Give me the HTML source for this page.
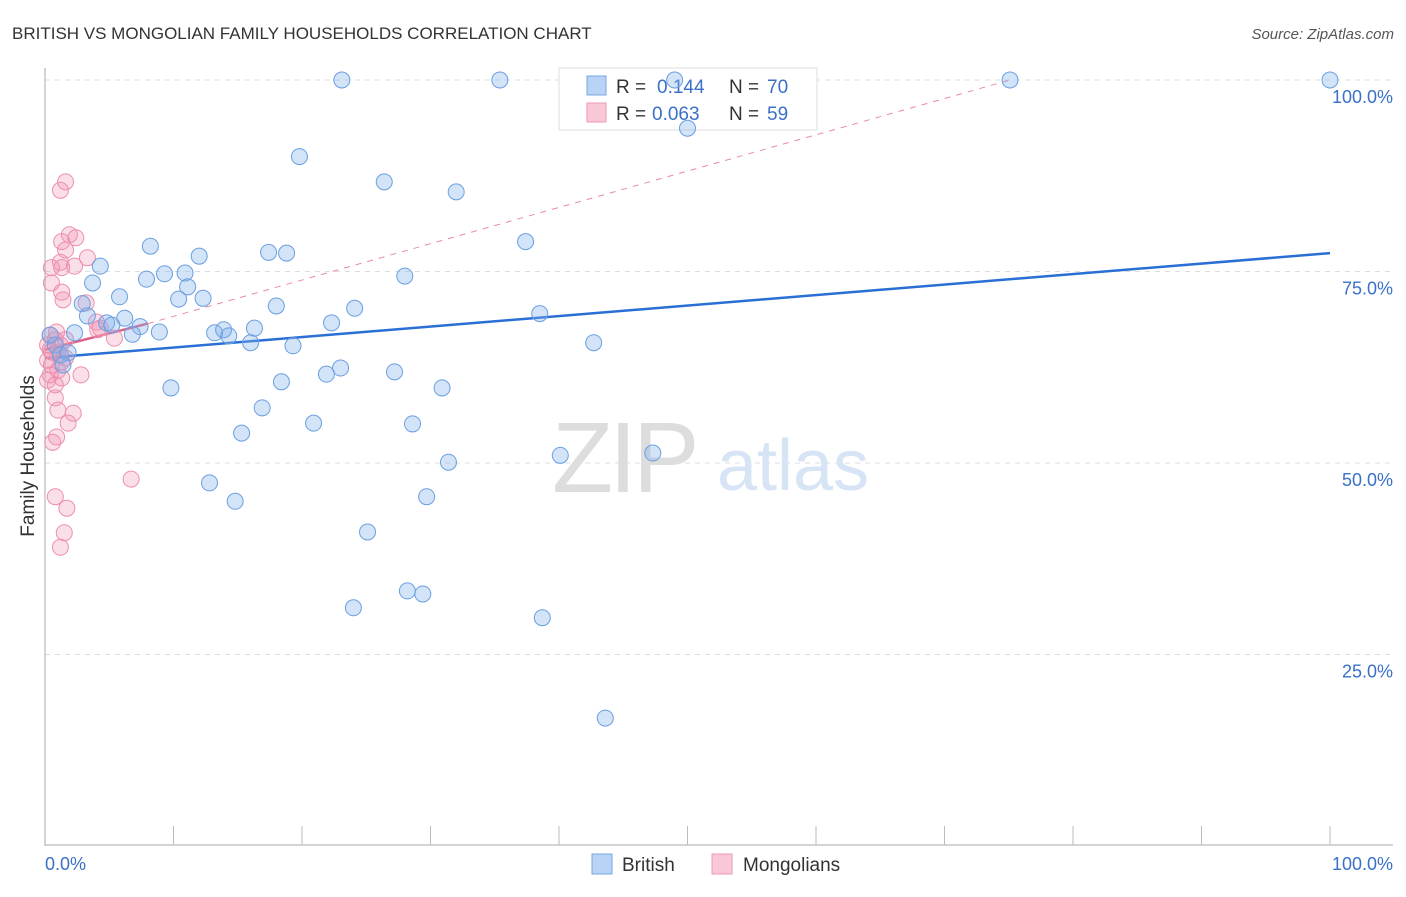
<!DOCTYPE html>
<html><head><meta charset="utf-8"><style>
body{margin:0;background:#fff;font-family:"Liberation Sans",sans-serif}
svg text{font-family:"Liberation Sans",sans-serif}
</style></head><body>
<svg id="chart" width="1406" height="892" xmlns="http://www.w3.org/2000/svg">
<text x="12" y="39" font-size="17" fill="#333">BRITISH VS MONGOLIAN FAMILY HOUSEHOLDS CORRELATION CHART</text>
<text x="1394" y="39" font-size="15" fill="#555" text-anchor="end" font-style="italic">Source: ZipAtlas.com</text>
<g id="grid"></g>
<g>
<text x="552" y="492" font-size="100" fill="#ddd" font-family="Liberation Serif" letter-spacing="-4">ZIP</text>
<text x="717" y="490" font-size="72" fill="#d6e4f5">atlas</text>
</g>
<g>
<rect x="559" y="68" width="258" height="62" fill="#fff" stroke="#ddd"/>
<rect x="587" y="76" width="19" height="19" fill="#b8d3f5" stroke="#7aa7e0"/>
<text x="616" y="93" font-size="19" fill="#333">R = </text><text x="657" y="93" font-size="19" fill="#3a70c8">0.144</text>
<text x="729" y="93" font-size="19" fill="#333">N = </text><text x="767" y="93" font-size="19" fill="#3a70c8">70</text>
<rect x="587" y="103" width="19" height="19" fill="#f8c8d6" stroke="#ec9ab5"/>
<text x="616" y="120" font-size="19" fill="#333">R = </text><text x="652" y="120" font-size="19" fill="#3a70c8">0.063</text>
<text x="729" y="120" font-size="19" fill="#333">N = </text><text x="767" y="120" font-size="19" fill="#3a70c8">59</text>
</g>
<g id="axes"></g>
<g id="lines"></g>
<g id="pts"></g>
<text transform="translate(34,456) rotate(-90)" font-size="19" fill="#333" text-anchor="middle">Family Households</text>
<g>
<rect x="592" y="854" width="20" height="20" fill="#b8d3f5" stroke="#7aa7e0"/>
<text x="622" y="871" font-size="19" fill="#333">British</text>
<rect x="712" y="854" width="20" height="20" fill="#f8c8d6" stroke="#ec9ab5"/>
<text x="743" y="871" font-size="19" fill="#333">Mongolians</text>
</g>
</svg>
<script>
const yTicks=[25,50,75,100];
const yTickLabels=["25.0%","50.0%","75.0%","100.0%"];
const xTickLabels=["0.0%","100.0%"];
const britishX=[23.1,35.4,49.0,75.1,100,50.0,19.8,26.4,32.0,8.2,37.4,17.4,18.8,12.0,4.3,9.3,10.9,28.0,7.9,3.7,11.1,5.8,10.4,12.3,2.9,18.0,24.1,3.3,6.2,4.8,7.4,5.2,22.3,38.5,6.8,8.9,13.2,13.9,16.3,14.3,16.0,19.3,42.7,2.3,0.4,0.8,1.2,1.8,1.4,23.0,21.9,27.2,18.4,9.8,30.9,16.9,20.9,28.6,15.3,31.4,40.1,47.3,12.8,29.7,14.8,25.1,28.2,29.4,24.0,38.7,43.6];
const britishY=[100,100,100,100,100,93.7,90.0,86.7,85.4,78.3,78.9,77.5,77.4,77.0,75.7,74.7,74.8,74.4,74.0,73.5,73.0,71.7,71.4,71.5,70.8,70.5,70.2,69.2,68.9,68.3,67.8,68.0,68.3,69.5,66.8,67.1,67.0,67.4,67.6,66.6,65.7,65.3,65.7,67.0,66.7,65.4,64.1,64.4,62.8,62.4,61.6,61.9,60.6,59.8,59.8,57.2,55.2,55.1,53.9,50.1,51.0,51.3,47.4,45.6,45.0,41.0,33.3,32.9,31.1,29.8,16.7];
const mongolX=[1.6,1.2,1.9,1.3,2.4,1.6,1.2,1.3,2.3,0.5,3.3,0.5,1.3,1.4,3.2,4.0,4.1,5.4,0.4,0.8,1.2,0.4,1.0,0.2,1.6,0.5,1.0,0.4,1.3,2.8,0.2,0.8,0.8,1.0,2.2,1.8,0.9,0.6,6.7,0.8,1.7,1.5,1.2,0.9,1.6,0.2,0.5,1.3,4.3];
const mongolY=[86.7,85.6,79.8,78.9,79.4,77.8,76.2,75.5,75.7,75.5,76.8,73.5,72.3,71.3,70.9,68.4,67.4,66.3,66.7,66.1,65.4,64.8,64.1,63.4,63.7,62.8,62.1,61.5,61.1,61.5,60.8,60.2,58.5,56.9,56.5,55.2,53.4,52.7,47.9,45.6,44.1,40.9,39.0,67.1,66.1,65.4,64.5,63.2,67.6];
const britishTrend=[63.7,77.4];
const mongolTrend=[64.8,68.2,100];
const NS="http://www.w3.org/2000/svg";
const xs=v=>45+v*12.85, ys=v=>846-v*7.66;
function mk(tag,attrs,parent){const e=document.createElementNS(NS,tag);for(const k in attrs)e.setAttribute(k,attrs[k]);parent.appendChild(e);return e;}
const grid=document.getElementById('grid'),axes=document.getElementById('axes'),lines=document.getElementById('lines'),pts=document.getElementById('pts');
yTicks.forEach((t,i)=>{
  const l=mk('line',{x1:45,x2:1393,y1:ys(t),y2:ys(t),stroke:'#ddd','stroke-dasharray':'5,5'},grid);
  
  
  const tx=mk('text',{x:1393,y:ys(t)+23,'font-size':18,fill:'#3a70c8','text-anchor':'end'},axes);
  tx.textContent=yTickLabels[i];
  
  
});
mk('line',{x1:45,x2:45,y1:68,y2:846,stroke:'#aaa'},axes);
mk('line',{x1:45,x2:1393,y1:845,y2:845,stroke:'#aaa'},axes);
for(let i=1;i<=10;i++){const t=mk('line',{x1:xs(i*10),x2:xs(i*10),y1:826,y2:845,stroke:'#bbb'},axes);
  
  }
const xl0=mk('text',{x:45,y:870,'font-size':18,fill:'#3a70c8'},axes);xl0.textContent=xTickLabels[0];


const xl1=mk('text',{x:1393,y:870,'font-size':18,fill:'#3a70c8','text-anchor':'end'},axes);xl1.textContent=xTickLabels[1];


for(let i=0;i<mongolX.length;i++){const c=mk('circle',{cx:xs(mongolX[i]),cy:ys(mongolY[i]),r:8,fill:'rgba(242,150,180,0.3)',stroke:'#ec8fae','stroke-width':1},pts);
  
  }
for(let i=0;i<britishX.length;i++){const c=mk('circle',{cx:xs(britishX[i]),cy:ys(britishY[i]),r:8,fill:'rgba(130,175,235,0.35)',stroke:'#6a9fe0','stroke-width':1},pts);
  
  }
const bl=mk('line',{x1:xs(0),y1:ys(britishTrend[0]),x2:xs(100),y2:ys(britishTrend[1]),stroke:'#2a6fd6','stroke-width':2.5},lines);


const md=mk('line',{x1:xs(8),y1:ys(mongolTrend[1]),x2:xs(75.1),y2:ys(mongolTrend[2]),stroke:'#e88aa8','stroke-width':1,'stroke-dasharray':'6,6'},lines);


const ml=mk('line',{x1:xs(0),y1:ys(mongolTrend[0]),x2:xs(8),y2:ys(mongolTrend[1]),stroke:'#e0608a','stroke-width':2.5},lines);


</script>
</body></html>
